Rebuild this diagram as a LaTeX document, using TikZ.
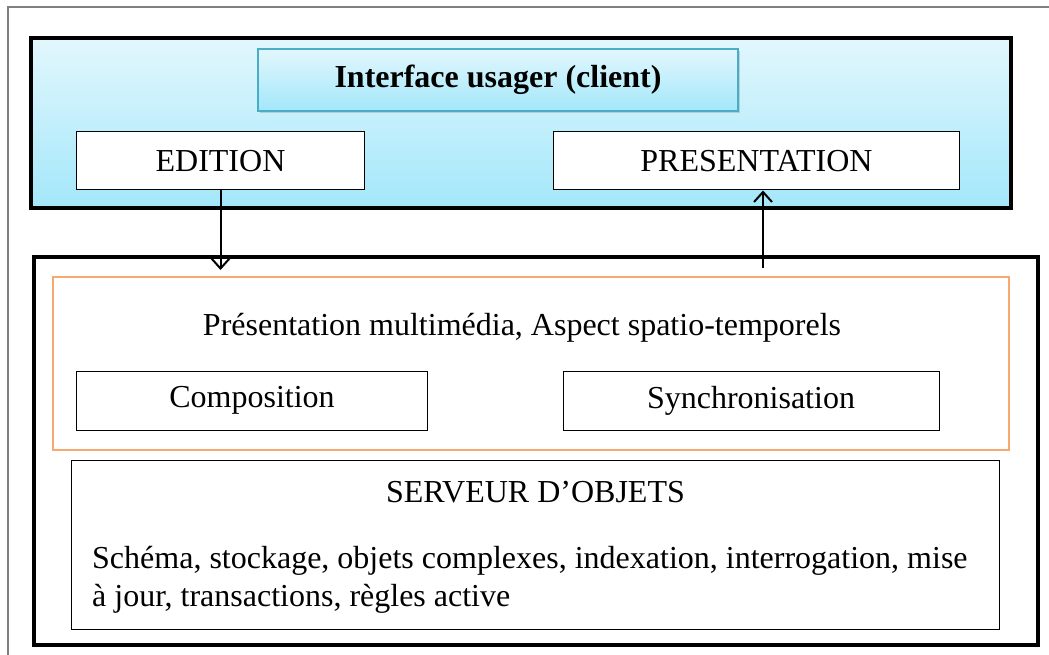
\documentclass[tikz,border=0pt]{standalone}
\usepackage{fontspec}
\setmainfont{Liberation Serif}
\usetikzlibrary{positioning,shadows,arrows.meta}

\definecolor{ciel}{HTML}{E2F7FD}
\definecolor{cielfonce}{HTML}{A3E7FA}
\definecolor{bordtitre}{HTML}{4BACC6}
\definecolor{orange}{HTML}{F7A96E}

\tikzset{
  boite/.style={draw=black, line width=1pt, fill=white, inner sep=0pt},
  epais/.style={draw=black, line width=4pt},
  fleche/.style={line width=2pt, -{Straight Barb[length=10pt,width=18pt,line width=2pt]}}
}

\begin{document}
\begin{tikzpicture}[x=1pt,y=-1pt, font=\fontsize{32}{38}\selectfont]
  \useasboundingbox (0,0) rectangle (1049,655);
  % cadre gris
  \draw[gray, line width=1.5pt] (8,656) -- (8,7) -- (1049,7);
  % bloc client
  \draw[epais, top color=ciel, bottom color=cielfonce, drop shadow={opacity=.35, shadow xshift=2pt, shadow yshift=-2pt}] (31,38) rectangle (1011,208);
  \node[draw=bordtitre, line width=1.3pt, top color=ciel, bottom color=cielfonce, drop shadow={opacity=.3, shadow xshift=2pt, shadow yshift=-2pt},
        minimum width=480pt, minimum height=62pt] (titre) at (498,80) {\textbf{Interface usager (client)}};
  \node[boite, minimum width=288pt, minimum height=58pt] (edition) at (220.5,161) {EDITION};
  \node[boite, minimum width=406pt, minimum height=58pt] (presentation) at (756.5,161) {PRESENTATION};
  % bloc serveur
  \draw[epais] (34,257) rectangle (1038,645);
  \draw[orange, line width=1.2pt] (53,277) rectangle (1009,450);
  \node (multimedia) at (522,328) {Présentation multimédia, Aspect spatio-temporels};
  \node[boite, minimum width=351pt, minimum height=59pt] (composition) at (252,400.5) {Composition};
  \node[boite, minimum width=376pt, minimum height=59pt] (synchro) at (751,400.5) {Synchronisation};
  \node[boite, minimum width=928pt, minimum height=169pt] (serveur) at (535.5,544.5) {};
  \node (objets) at (535.5,492) {SERVEUR D’OBJETS};
  \node[align=left, anchor=north west, inner sep=0pt] (regles) at (92,546)
    {Schéma, stockage, objets complexes, indexation, interrogation, mise\\ à jour, transactions, règles active};
  % fleches
  \coordinate (bas) at (edition.south |- 0,270);
  \coordinate (haut) at (763,268);
  \draw[fleche] (edition.south) -- (bas);
  \draw[fleche] (haut) -- (haut |- presentation.south);
\end{tikzpicture}
\end{document}
